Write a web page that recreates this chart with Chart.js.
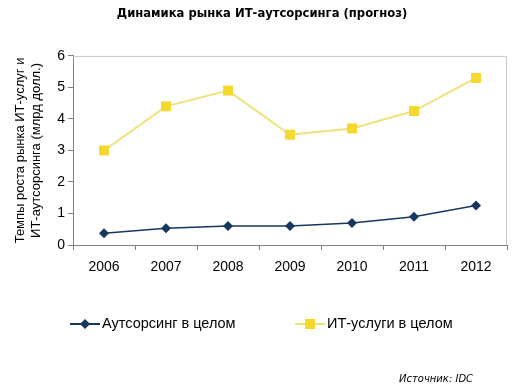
<!DOCTYPE html>
<html>
<head>
<meta charset="utf-8">
<script src="https://cdn.jsdelivr.net/npm/chart.js@4"></script>
<style>
  html, body { margin: 0; padding: 0; background: #fff; }
  #wrap { position: relative; width: 514px; height: 388px; }
</style>
</head>
<body>
<div id="wrap"><canvas id="myChart" width="514" height="388"></canvas></div>
<script>
var years = ['2006', '2007', '2008', '2009', '2010', '2011', '2012'];
var outsourcing = [0.37, 0.53, 0.60, 0.60, 0.70, 0.90, 1.25];
var itServices = [3.0, 4.4, 4.9, 3.5, 3.7, 4.25, 5.3];
var yTicks = [0, 1, 2, 3, 4, 5, 6];

var navy = '#17375e';
var yellowLine = '#f0e27a';
var yellowMark = '#f6d72c';

// legend entries drawn by hand: line + marker + label, like the original
var legendItems = [
    { x: 70, shape: 'diamond' },
    { x: 295, shape: 'square' }
];

var frame = {
    id: 'frame',
    beforeDatasetsDraw: function (chart) {
        var a = chart.chartArea, ctx = chart.ctx;
        ctx.save();
        ctx.strokeStyle = '#c8c8c8';
        ctx.lineWidth = 1;
        ctx.beginPath();
        ctx.moveTo(a.left, a.top + 0.5);
        ctx.lineTo(a.right - 0.5, a.top + 0.5);
        ctx.lineTo(a.right - 0.5, a.bottom);
        ctx.stroke();
        ctx.restore();
    },
    afterDraw: function (chart) {
        var ctx = chart.ctx;
        ctx.save();
        var y = 324;
        legendItems.forEach(function (item, i) {
            var ds = chart.data.datasets[i];
            ctx.strokeStyle = ds.borderColor;
            ctx.lineWidth = 2;
            ctx.beginPath();
            ctx.moveTo(item.x, y);
            ctx.lineTo(item.x + 30, y);
            ctx.stroke();
            ctx.fillStyle = ds.backgroundColor;
            ctx.beginPath();
            var cx = item.x + 15;
            if (item.shape === 'diamond') {
                ctx.moveTo(cx, y - 5); ctx.lineTo(cx + 5, y); ctx.lineTo(cx, y + 5); ctx.lineTo(cx - 5, y);
            } else {
                ctx.rect(cx - 5, y - 5, 10, 10);
            }
            ctx.closePath();
            ctx.fill();
            ctx.fillStyle = '#000';
            ctx.font = '14.5px "Liberation Sans"';
            ctx.textAlign = 'left';
            ctx.textBaseline = 'middle';
            ctx.fillText(ds.label, item.x + 32, y);
        });

        ctx.font = 'italic 10px "DejaVu Sans"';
        ctx.fillStyle = '#000';
        ctx.fillText('Источник: IDC', 399, 379);
        ctx.restore();
    }
};

var ctx = document.getElementById('myChart').getContext('2d');

var myChart = new Chart(ctx, {
    type: 'line',
    data: {
        labels: years,
        datasets: [{
            label: 'Аутсорсинг в целом',
            data: outsourcing,
            borderColor: navy,
            backgroundColor: navy,
            borderWidth: 1.5,
            pointStyle: 'rectRot',
            pointRadius: 5,
            pointHoverRadius: 5,
            pointBorderWidth: 0,
            tension: 0
        }, {
            label: 'ИТ-услуги в целом',
            data: itServices,
            borderColor: yellowLine,
            backgroundColor: yellowMark,
            borderWidth: 2,
            pointStyle: 'rect',
            pointRadius: 7,
            pointHoverRadius: 7,
            pointBorderWidth: 0,
            tension: 0
        }]
    },
    options: {
        responsive: false,
        animation: false,
        layout: { padding: { left: 16, right: 6, top: 0, bottom: 80 } },
        plugins: {
            title: {
                display: true,
                text: 'Динамика рынка ИТ-аутсорсинга (прогноз)',
                color: '#000',
                font: { family: 'DejaVu Sans', size: 11.6, weight: 'bold' },
                padding: { top: 7, bottom: 35 }
            },
            legend: { display: false },
            tooltip: { enabled: false }
        },
        scales: {
            x: {
                offset: true,
                grid: { offset: true, drawOnChartArea: false, tickLength: 5, color: '#808080' },
                border: { color: '#808080' },
                ticks: { color: '#000', padding: 9, autoSkip: false, maxRotation: 0, font: { family: 'Liberation Sans', size: 14 } },
                afterFit: function (scale) { scale.height = 63; }
            },
            y: {
                min: 0,
                max: 6,
                afterBuildTicks: function (scale) {
                    scale.ticks = yTicks.map(function (v) { return { value: v }; });
                },
                grid: { drawOnChartArea: false, tickLength: 5, color: '#808080' },
                border: { color: '#808080' },
                ticks: { color: '#000', padding: 3, autoSkip: false, font: { family: 'Liberation Sans', size: 14 } },
                title: {
                    display: true,
                    text: ['Темпы роста рынка ИТ-услуг и', 'ИТ-аутсорсинга (млрд долл.)'],
                    color: '#000',
                    font: { family: 'Liberation Sans', size: 13 },
                    padding: { top: -3, bottom: 0 }
                },
                afterFit: function (scale) { scale.width = 57; }
            }
        }
    },
    plugins: [frame]
});
</script>
</body>
</html>
